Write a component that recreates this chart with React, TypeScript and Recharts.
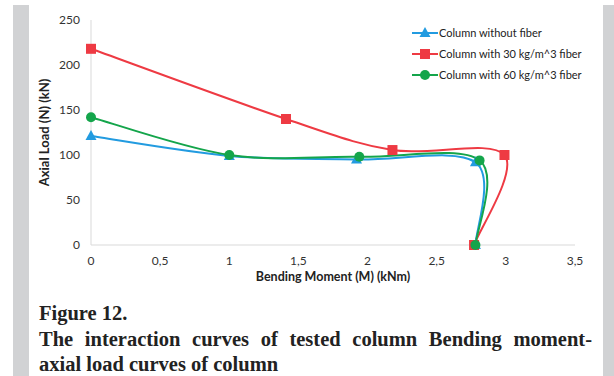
import React from "react";
import { LineChart, Line, XAxis, YAxis, Legend, Label } from "recharts";

// bending moment (kNm) and axial load (kN)
const momentPlain = [0, 1, 1.92, 2.78, 2.78];
const loadPlain = [121, 99, 95, 92, 0];

const moment30 = [0, 1.41, 2.18, 2.99, 2.77];
const load30 = [218, 140, 105.5, 100, 0];

const moment60 = [0, 1, 1.94, 2.81, 2.78];
const load60 = [142, 100, 98, 94, 0];

const xTicks = [0, 0.5, 1, 1.5, 2, 2.5, 3, 3.5];
const yTicks = [0, 50, 100, 150, 200, 250];

const toRows = (m: number[], n: number[]) => m.map((v, i) => ({ moment: v, load: n[i] }));

const series = [
  { name: "Column without fiber", color: "#229be0", shape: "triangle", rows: toRows(momentPlain, loadPlain) },
  { name: "Column with 30 kg/m^3 fiber", color: "#ee3a43", shape: "square", rows: toRows(moment30, load30) },
  { name: "Column with 60 kg/m^3 fiber", color: "#14a54b", shape: "circle", rows: toRows(moment60, load60) },
];

const font = "Lato, 'Open Sans', sans-serif";

// Excel-like smoothed line (Catmull-Rom through the points)
function smoothCurve(context: any) {
  let pts: number[][] = [];
  return {
    areaStart() {},
    areaEnd() {},
    lineStart() {
      pts = [];
    },
    point(x: number, y: number) {
      pts.push([+x, +y]);
    },
    lineEnd() {
      if (!pts.length) return;
      context.moveTo(pts[0][0], pts[0][1]);
      const t = 1 / 6;
      for (let i = 0; i < pts.length - 1; i++) {
        const p0 = pts[i - 1] || pts[i];
        const p1 = pts[i];
        const p2 = pts[i + 1];
        const p3 = pts[i + 2] || p2;
        context.bezierCurveTo(
          p1[0] + (p2[0] - p0[0]) * t,
          p1[1] + (p2[1] - p0[1]) * t,
          p2[0] - (p3[0] - p1[0]) * t,
          p2[1] - (p3[1] - p1[1]) * t,
          p2[0],
          p2[1]
        );
      }
    },
  };
}

function Marker({ cx, cy, shape, color }: { cx: number; cy: number; shape: string; color: string }) {
  if (shape === "triangle") {
    return <path d={`M${cx},${cy - 6}L${cx + 5.5},${cy + 4}L${cx - 5.5},${cy + 4}Z`} fill={color} />;
  }
  if (shape === "square") {
    return <rect x={cx - 5} y={cy - 5} width={10} height={10} fill={color} />;
  }
  return <circle cx={cx} cy={cy} r={5} fill={color} />;
}

function LegendBox() {
  return (
    <div style={{ fontFamily: font, fontSize: 11, color: "#222" }}>
      {series.map((s) => (
        <div key={s.name} style={{ display: "flex", alignItems: "center", height: 21 }}>
          <svg width={26} height={12} style={{ marginRight: 1 }}>
            <line x1={0} y1={6} x2={26} y2={6} stroke={s.color} strokeWidth={2} />
            <Marker cx={13} cy={6} shape={s.shape} color={s.color} />
          </svg>
          <span>{s.name}</span>
        </div>
      ))}
    </div>
  );
}

export default function App() {
  return (
    <div style={{ position: "relative", width: 614, height: 376, background: "#fff", overflow: "hidden" }}>
      <style>{`body{margin:0}`}</style>
      <div style={{ position: "absolute", left: 13, top: 5, width: 16, bottom: 0, background: "#d1d2d4" }} />
      <div style={{ position: "absolute", left: 603, top: 5, width: 11, bottom: 0, background: "#d1d2d4" }} />
      <div style={{ position: "absolute", left: 0, top: 0 }}>
        <LineChart width={614} height={290} margin={{ top: 20, right: 39, left: 31, bottom: 15 }}>
          <XAxis
            dataKey="moment"
            type="number"
            domain={[0, 3.5]}
            ticks={xTicks}
            tickFormatter={(v: number) => String(v).replace(".", ",")}
            tickLine={false}
            tickMargin={5}
            height={30}
            stroke="#d9d9d9"
            tick={{ fill: "#333", fontSize: 12, fontFamily: font }}
          >
            <Label
              content={({ viewBox }: any) => (
                <text
                  x={viewBox.x + viewBox.width / 2}
                  y={281}
                  textAnchor="middle"
                  fontFamily={font}
                  fontWeight="bold"
                  fontSize={12.5}
                  fill="#222"
                >
                  Bending Moment (M) (kNm)
                </text>
              )}
            />
          </XAxis>
          <YAxis
            type="number"
            domain={[0, 250]}
            ticks={yTicks}
            tickLine={false}
            tickMargin={5}
            width={60}
            stroke="#d9d9d9"
            tick={{ fill: "#333", fontSize: 12, fontFamily: font }}
          >
            <Label
              content={({ viewBox }: any) => (
                <text
                  x={49}
                  y={viewBox.y + viewBox.height / 2}
                  transform={`rotate(-90 49 ${viewBox.y + viewBox.height / 2})`}
                  textAnchor="middle"
                  fontFamily={font}
                  fontWeight="bold"
                  fontSize={13}
                  fill="#222"
                >
                  Axial Load (N) (kN)
                </text>
              )}
            />
          </YAxis>
          <Legend
            layout="vertical"
            align="center"
            verticalAlign="middle"
            wrapperStyle={{ position: "absolute", top: 22, left: 412, width: 190 }}
            content={() => <LegendBox />}
          />
          {series.map((s) => (
            <Line
              key={s.name}
              name={s.name}
              data={s.rows}
              dataKey="load"
              type={smoothCurve as any}
              stroke={s.color}
              strokeWidth={2}
              isAnimationActive={false}
              dot={(p: any) => <Marker key={`${s.name}-${p.index}`} cx={p.cx} cy={p.cy} shape={s.shape} color={s.color} />}
              activeDot={false}
            />
          ))}
        </LineChart>
      </div>
      <div
        style={{
          position: "absolute",
          left: 39,
          top: 301,
          width: 553,
          fontFamily: "'Liberation Serif', 'Times New Roman', serif",
          fontWeight: "bold",
          fontSize: 20.5,
          lineHeight: "25.5px",
          color: "#222",
        }}
      >
        <div>Figure 12.</div>
        <div style={{ textAlign: "justify", textAlignLast: "justify" }}>
          The interaction curves of tested column Bending moment-
        </div>
        <div>axial load curves of column</div>
      </div>
    </div>
  );
}
